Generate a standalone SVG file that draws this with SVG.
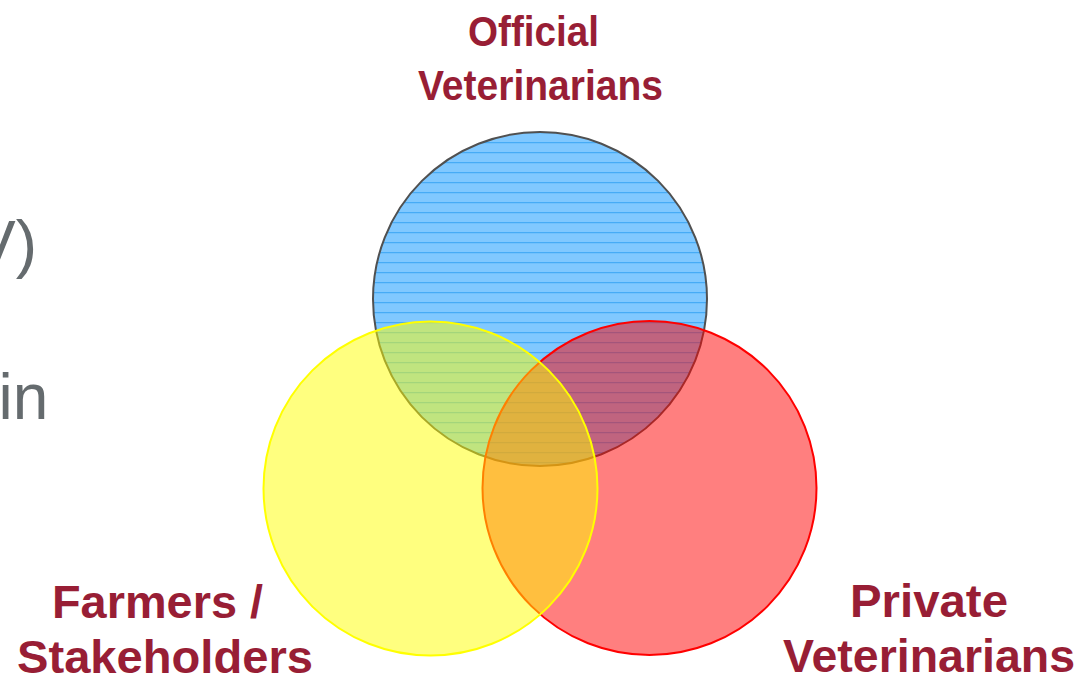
<svg xmlns="http://www.w3.org/2000/svg" width="1092" height="679" viewBox="0 0 1092 679">
<style>
.bg{font-family:"Liberation Sans",Arial,sans-serif;font-size:64px;fill:#656b6e}
.lbl{font-family:"Liberation Sans",Arial,sans-serif;font-weight:bold;fill:#981e35;text-anchor:middle}
.top{font-size:43px}
.bot{font-size:47px}
</style>
<defs>
<pattern id="hlines" patternUnits="userSpaceOnUse" x="0" y="0" width="10" height="10">
<rect width="10" height="10" fill="#80c8ff"/>
<line x1="0" y1="2.7" x2="10" y2="2.7" stroke="#38a4f4" stroke-width="1"/>
</pattern>
</defs>
<rect width="1092" height="679" fill="#ffffff"/>
<g id="background-text">
<text class="bg" x="37" y="266" text-anchor="end">V)</text>
<text class="bg" x="-1.6" y="419">in</text>
</g>
<g id="connectors"/>
<g id="node-official">
<circle cx="540" cy="299" r="167" fill="url(#hlines)" stroke="#505050" stroke-width="2"/>
</g>
<g id="node-private">
<circle cx="649.5" cy="488" r="167" fill="#ff0000" fill-opacity="0.5" stroke="#ff0000" stroke-width="2"/>
</g>
<g id="node-farmers">
<circle cx="430.5" cy="488.5" r="167" fill="#ffff00" fill-opacity="0.5" stroke="#ffff00" stroke-width="2"/>
</g>
<g id="label-official">
<text class="lbl top" x="533.5" y="46" textLength="131" lengthAdjust="spacingAndGlyphs">Official</text>
<text class="lbl top" x="540.5" y="100" textLength="245" lengthAdjust="spacingAndGlyphs">Veterinarians</text>
</g>
<g id="label-farmers">
<text class="lbl bot" x="157.5" y="618" textLength="211" lengthAdjust="spacingAndGlyphs">Farmers /</text>
<text class="lbl bot" x="165" y="673" textLength="296" lengthAdjust="spacingAndGlyphs">Stakeholders</text>
</g>
<g id="label-private">
<text class="lbl bot" x="929" y="617" textLength="158" lengthAdjust="spacingAndGlyphs">Private</text>
<text class="lbl bot" x="929" y="672" textLength="292" lengthAdjust="spacingAndGlyphs">Veterinarians</text>
</g>
</svg>
